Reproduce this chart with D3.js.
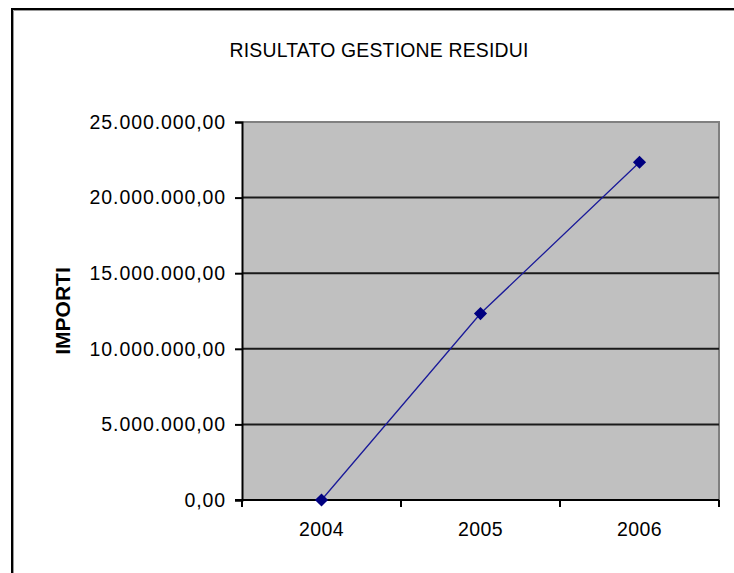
<!DOCTYPE html>
<html><head><meta charset="utf-8">
<script src="https://cdn.jsdelivr.net/npm/d3@7"></script>
<style>html,body{margin:0;padding:0;background:#fff;overflow:hidden}</style>
</head><body>
<svg id="c" width="734" height="573"></svg>
<script>
const categories = ["2004", "2005", "2006"];
const values = [0, 12330000, 22340000];
const yTicks = [0, 5000000, 10000000, 15000000, 20000000, 25000000];
const title = "RISULTATO GESTIONE RESIDUI";
const yLabel = "IMPORTI";

const svg = d3.select("#c");
const font = "'Liberation Sans', Arial, sans-serif";
svg.append("rect").attr("width",734).attr("height",573).attr("fill","#fff");

// outer frame (clipped on right/bottom)
svg.append("rect").attr("x",12).attr("y",9).attr("width",1000).attr("height",1000)
  .attr("fill","none").attr("stroke","#000").attr("stroke-width",2);
svg.append("path").attr("d","M13.5,1000V10.5H1000").attr("fill","none").attr("stroke","#999").attr("stroke-width",1);

const L=242, R=719, T=122, B=500;
const x = d3.scaleBand().domain(categories).range([L,R]).padding(0);
const y = d3.scaleLinear().domain([0,25000000]).range([B,T]);

svg.append("rect").attr("x",L).attr("y",T).attr("width",R-L).attr("height",B-T).attr("fill","#c0c0c0");
svg.append("path").attr("d",`M${L},${T}H${R}V${B}`).attr("fill","none").attr("stroke","#808080").attr("stroke-width",2);

svg.append("g").selectAll("line").data(yTicks.filter(d=>d>0 && d<25000000)).join("line")
  .attr("x1",L).attr("x2",R).attr("y1",d=>y(d)).attr("y2",d=>y(d))
  .attr("stroke","#1a1a1a").attr("stroke-width",2);

const fmt = v => d3.format(",.2f")(v).replace(/,/g,"#").replace(".",",").replace(/#/g,".");

const ya = d3.axisLeft(y).tickValues(yTicks).tickSize(7).tickPadding(9).tickFormat(fmt);
const gy = svg.append("g").attr("transform",`translate(${L},0)`).call(ya);
gy.select(".domain").attr("stroke","#000").attr("stroke-width",2);
gy.selectAll(".tick line").attr("stroke","#000").attr("stroke-width",2);
gy.selectAll("text").attr("font-family",font).attr("font-size","19.5px").attr("letter-spacing","0.9px").attr("fill","#000");

const xa = d3.axisBottom(x).tickSize(0).tickPadding(22);
const gx = svg.append("g").attr("transform",`translate(0,${B})`).call(xa);
gx.select(".domain").remove();
gx.selectAll("text").attr("font-family",font).attr("font-size","19.5px").attr("letter-spacing","0.4px").attr("fill","#000");
svg.append("line").attr("x1",L-7).attr("x2",R).attr("y1",B).attr("y2",B).attr("stroke","#000").attr("stroke-width",2);
const bounds = categories.map(c=>x(c)).concat([x(categories[categories.length-1])+x.bandwidth()]);
svg.append("g").selectAll("line").data(bounds).join("line")
  .attr("x1",d=>d).attr("x2",d=>d).attr("y1",B).attr("y2",B+7)
  .attr("stroke","#000").attr("stroke-width",2);

const cx = c => x(c)+x.bandwidth()/2;
const data = categories.map((c,i)=>({c, v:values[i]}));
svg.append("path").datum(data)
  .attr("d", d3.line().x(d=>cx(d.c)).y(d=>y(d.v)))
  .attr("fill","none").attr("stroke","#1a1a99").attr("stroke-width",1.3);
svg.append("g").selectAll("path").data(data).join("path")
  .attr("transform",d=>`translate(${cx(d.c)},${y(d.v)})`)
  .attr("d", d3.symbol().type(d3.symbolDiamond2).size(110))
  .attr("fill","#000080");

svg.append("text").attr("x",379).attr("y",57).attr("text-anchor","middle")
  .attr("font-family",font).attr("font-size","19.4px").attr("letter-spacing","0.2px").attr("fill","#000").text(title);

svg.append("text").attr("transform",`translate(70,${(T+B)/2}) rotate(-90)`).attr("text-anchor","middle")
  .attr("font-family",font).attr("font-size","21px").attr("font-weight","bold").attr("fill","#000").text(yLabel);
</script>
</body></html>
